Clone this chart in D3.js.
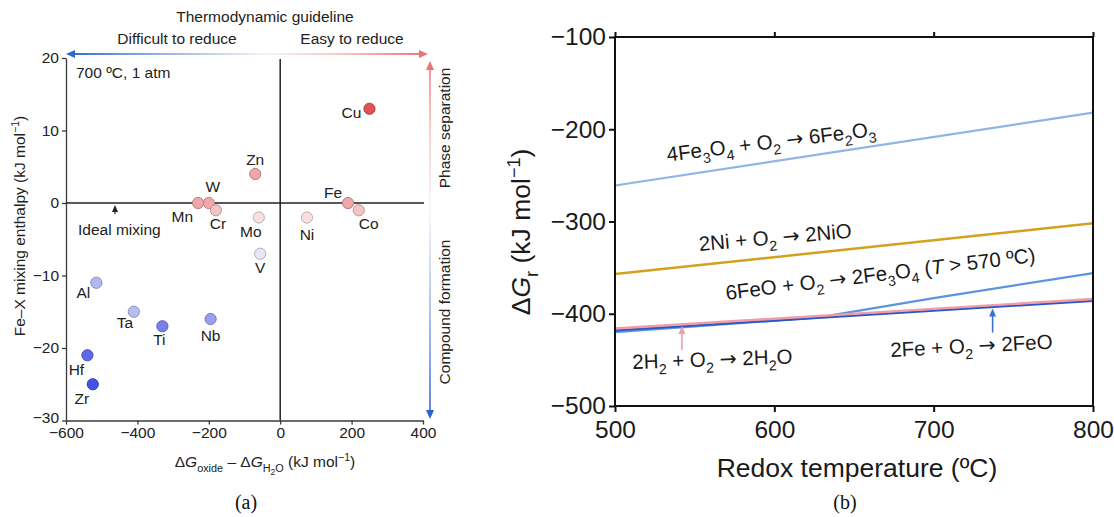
<!DOCTYPE html>
<html>
<head>
<meta charset="utf-8">
<script src="https://cdn.jsdelivr.net/npm/d3@7"></script>
<style>
  html, body { margin: 0; padding: 0; background: #fff; }
  svg { display: block; }
  text { white-space: pre; }
</style>
</head>
<body>
<svg id="fig" width="1114" height="517"></svg>
<script>
// ---------- Panel (a): Fe–X mixing enthalpy vs. oxide stability ----------
const elements = ["Cu", "Zn", "W", "Mn", "Cr", "Mo", "V", "Ni", "Fe", "Co", "Al", "Ta", "Ti", "Nb", "Hf", "Zr"];
const dGoxide  = [250, -70, -200, -230, -180, -60, -56, 75, 190, 220, -515, -410, -330, -195, -540, -525];
const mixingH  = [13, 4, 0, 0, -1, -2, -7, -2, 0, -1, -11, -15, -17, -16, -21, -25];
const xTicksA = [-600, -400, -200, 0, 200, 400];
const yTicksA = [-30, -20, -10, 0, 10, 20];

// ---------- Panel (b): Gibbs energy of redox reactions ----------
const xTicksB = [500, 600, 700, 800];
const yTicksB = [-500, -400, -300, -200, -100];
const tFe2O3 = [500, 800];            const gFe2O3 = [-261, -182];
const tNiO   = [500, 800];            const gNiO   = [-357, -302];
const tFe3O4 = [500, 628, 700, 800];  const gFe3O4 = [-420, -404, -383, -356];
const tH2O   = [500, 800];            const gH2O   = [-416, -384];
const tFeO   = [500, 800];            const gFeO   = [-418, -386];

const svg = d3.select("#fig");
const SANS = "'Liberation Sans', Arial, Helvetica, sans-serif";
const SERIF = "'Liberation Serif', 'Times New Roman', serif";

// Writes text made of normal / italic / subscript / superscript / arrow runs.
function rich(textSel, parts, size) {
  let shift = 0;
  parts.forEach(([s, kind]) => {
    const t = textSel.append("tspan").text(s);
    let target = 0;
    if (kind === "sub") { target = size * 0.3; t.attr("font-size", size * 0.7); }
    else if (kind === "sub2") { target = size * 0.5; t.attr("font-size", size * 0.55); }
    else if (kind === "sup") { target = -size * 0.38; t.attr("font-size", size * 0.68); }
    else if (kind === "i") { t.attr("font-style", "italic"); }
    else if (kind === "arrow") { t.attr("font-family", "'DejaVu Sans', sans-serif"); }
    t.attr("dy", target - shift);
    shift = target;
  });
  return textSel;
}

const defs = svg.append("defs");

// ===================== Panel (a) =====================
const FA = 15.5;
const gA = svg.append("g");
const xA = d3.scaleLinear().domain([-600, 400]).range([66, 423]);
const yA = d3.scaleLinear().domain([-30, 20]).range([420.5, 58]);

const axisColor = "#3a3a3a";
const axL = gA.append("g").attr("transform", `translate(${xA(-600)},0)`)
  .call(d3.axisLeft(yA).tickValues(yTicksA).tickSize(4).tickPadding(3).tickSizeOuter(0));
const axB = gA.append("g").attr("transform", `translate(0,${yA(-30)})`)
  .call(d3.axisBottom(xA).tickValues(xTicksA).tickSize(4).tickPadding(2).tickSizeOuter(0));
[axL, axB].forEach(ax => {
  ax.selectAll("path, line").attr("stroke", axisColor).attr("stroke-width", 1.3);
  ax.selectAll("text").attr("font-family", SANS).attr("font-size", FA).attr("fill", "#222");
});
// lift the lowest y label a little so it clears the first x label
axL.selectAll(".tick").filter(d => d === -30).select("text").attr("dy", "0.1em");

// zero reference lines
gA.append("line").attr("x1", xA(0)).attr("x2", xA(0)).attr("y1", yA(20) + 1).attr("y2", yA(-30))
  .attr("stroke", "#222").attr("stroke-width", 1.5);
gA.append("line").attr("x1", xA(-600)).attr("x2", xA(400) + 1).attr("y1", yA(0)).attr("y2", yA(0))
  .attr("stroke", "#222").attr("stroke-width", 1.5);

// colour by mixing enthalpy: blue (compound formation) to red (phase separation)
const colorA = d3.scaleLinear()
  .domain([-25, -17, -15, -11, -7, -2, 0, 4, 13])
  .range(["#4452e8", "#7880ea", "#b9bdf2", "#b2b8f2", "#e6e6f7", "#f8e0e0", "#f0a7aa", "#f0a5a8", "#e35252"])
  .interpolate(d3.interpolateRgb);

const pts = elements.map((el, i) => ({ el, x: dGoxide[i], y: mixingH[i] }));

// label placement around each marker: [dx, dy, anchor]
const labelPlace = {
  Cu: [-8, 9, "end"], Zn: [0, -9, "middle"], W: [4, -11, "middle"], Mn: [-5, 19, "end"],
  Cr: [2, 19, "middle"], Mo: [-8, 19, "middle"], V: [0, 19, "middle"], Ni: [0, 22, "middle"],
  Fe: [-15, -5, "middle"], Co: [10, 19, "middle"], Al: [-13, 15, "middle"], Ta: [-9, 16, "middle"],
  Ti: [-3, 18.5, "middle"], Nb: [0, 22, "middle"], Hf: [-11, 19.5, "middle"], Zr: [-11, 19.5, "middle"]
};

gA.append("g").selectAll("circle").data(pts).join("circle")
  .attr("cx", d => xA(d.x)).attr("cy", d => yA(d.y)).attr("r", 5.6)
  .attr("fill", d => colorA(d.y))
  .attr("stroke", d => d3.color(colorA(d.y)).darker(0.75))
  .attr("stroke-width", 1);

gA.append("g").selectAll("text").data(pts).join("text")
  .attr("x", d => xA(d.x) + labelPlace[d.el][0])
  .attr("y", d => yA(d.y) + labelPlace[d.el][1])
  .attr("text-anchor", d => labelPlace[d.el][2])
  .attr("font-family", SANS).attr("font-size", FA).attr("fill", "#222")
  .text(d => d.el);

// gradient arrows
const gradH = defs.append("linearGradient").attr("id", "gradH")
  .attr("gradientUnits", "userSpaceOnUse").attr("x1", 66).attr("x2", 428).attr("y1", 0).attr("y2", 0);
[[0, "#2c68cf"], [0.2, "#7fa3e2"], [0.55, "#f5f3f7"], [0.75, "#f7c9c9"], [1, "#ee7272"]]
  .forEach(([o, c]) => gradH.append("stop").attr("offset", o).attr("stop-color", c));
const gradV = defs.append("linearGradient").attr("id", "gradV")
  .attr("gradientUnits", "userSpaceOnUse").attr("x1", 0).attr("x2", 0).attr("y1", 60).attr("y2", 420);
[[0, "#ee7272"], [0.2, "#f7c6c6"], [0.42, "#f7f4f7"], [0.75, "#8aa8e4"], [1, "#2c5fcf"]]
  .forEach(([o, c]) => gradV.append("stop").attr("offset", o).attr("stop-color", c));

const arrowY = 54, arrowL = 66, arrowR = 428;
gA.append("line").attr("x1", arrowL + 6).attr("x2", arrowR - 6).attr("y1", arrowY).attr("y2", arrowY)
  .attr("stroke", "url(#gradH)").attr("stroke-width", 2);
gA.append("path").attr("d", `M${arrowL},${arrowY} l9,-4 l0,8 z`).attr("fill", "#2c68cf");
gA.append("path").attr("d", `M${arrowR},${arrowY} l-9,-4 l0,8 z`).attr("fill", "#ee7272");

const arrowX = 430, arrowT = 61, arrowBt = 419;
gA.append("line").attr("x1", arrowX).attr("x2", arrowX).attr("y1", arrowT + 6).attr("y2", arrowBt - 6)
  .attr("stroke", "url(#gradV)").attr("stroke-width", 1.6);
gA.append("path").attr("d", `M${arrowX},${arrowT} l-4,9 l8,0 z`).attr("fill", "#ee7272");
gA.append("path").attr("d", `M${arrowX},${arrowBt} l-4,-9 l8,0 z`).attr("fill", "#2c5fcf");

// headings and annotations
const txtA = (x, y, s, anchor = "middle") => gA.append("text")
  .attr("x", x).attr("y", y).attr("text-anchor", anchor)
  .attr("font-family", SANS).attr("font-size", FA).attr("fill", "#222").text(s);
txtA(265, 22, "Thermodynamic guideline");
txtA(177, 44, "Difficult to reduce");
txtA(352, 44, "Easy to reduce");
txtA(76, 78, "700 ºC, 1 atm", "start");
txtA(78, 235, "Ideal mixing", "start");
gA.append("line").attr("x1", 115).attr("x2", 115).attr("y1", 214).attr("y2", 209)
  .attr("stroke", "#222").attr("stroke-width", 1.2);
gA.append("path").attr("d", `M115,${yA(0) + 2} l-3,7 l6,0 z`).attr("fill", "#222");

gA.append("text").attr("transform", "translate(450,128) rotate(-90)")
  .attr("text-anchor", "middle").attr("font-family", SANS).attr("font-size", FA).attr("fill", "#222")
  .text("Phase separation");
gA.append("text").attr("transform", "translate(450,312) rotate(-90)")
  .attr("text-anchor", "middle").attr("font-family", SANS).attr("font-size", FA).attr("fill", "#222")
  .text("Compound formation");

rich(gA.append("text").attr("transform", "translate(25,226) rotate(-90)")
  .attr("text-anchor", "middle").attr("font-family", SANS).attr("font-size", FA).attr("fill", "#222"),
  [["Fe–X mixing enthalpy (kJ mol", "n"], ["−1", "sup"], [")", "n"]], FA);

rich(gA.append("text").attr("x", 265).attr("y", 467)
  .attr("text-anchor", "middle").attr("font-family", SANS).attr("font-size", FA).attr("fill", "#222"),
  [["Δ", "n"], ["G", "i"], ["oxide", "sub"], [" – Δ", "n"], ["G", "i"], ["H", "sub"], ["2", "sub2"], ["O", "sub"],
   [" (kJ mol", "n"], ["−1", "sup"], [")", "n"]], FA);

svg.append("text").attr("x", 246).attr("y", 509).attr("text-anchor", "middle")
  .attr("font-family", SERIF).attr("font-size", 20).attr("fill", "#111").text("(a)");

// ===================== Panel (b) =====================
const gB = svg.append("g");
const xB = d3.scaleLinear().domain([500, 800]).range([615, 1093]);
const yB = d3.scaleLinear().domain([-500, -100]).range([406, 37]);

const series = [
  { t: tFe3O4, g: gFe3O4, color: "#5b94df", w: 2.2 },
  { t: tFeO,   g: gFeO,   color: "#2b56c6", w: 2.2 },
  { t: tH2O,   g: gH2O,   color: "#f29ca8", w: 2.4 },
  { t: tFe2O3, g: gFe2O3, color: "#8fb5e6", w: 2.2 },
  { t: tNiO,   g: gNiO,   color: "#d3a11d", w: 2.5 }
];
const lineGen = d3.line().x(d => xB(d[0])).y(d => yB(d[1]));
gB.append("g").selectAll("path").data(series).join("path")
  .attr("d", s => lineGen(s.t.map((t, i) => [t, s.g[i]])))
  .attr("fill", "none").attr("stroke", s => s.color).attr("stroke-width", s => s.w);

// frame and axes
gB.append("rect").attr("x", xB(500)).attr("y", yB(-100))
  .attr("width", xB(800) - xB(500)).attr("height", yB(-500) - yB(-100))
  .attr("fill", "none").attr("stroke", "#111").attr("stroke-width", 2);
const bL = gB.append("g").attr("transform", `translate(${xB(500)},0)`)
  .call(d3.axisLeft(yB).tickValues(yTicksB).tickSize(6).tickPadding(3).tickSizeOuter(0));
const bB = gB.append("g").attr("transform", `translate(0,${yB(-500)})`)
  .call(d3.axisBottom(xB).tickValues(xTicksB).tickSize(6).tickPadding(9).tickSizeOuter(0));
const bT = gB.append("g").attr("transform", `translate(0,${yB(-100)})`)
  .call(d3.axisTop(xB).tickValues(xTicksB).tickSize(5).tickFormat("").tickSizeOuter(0));
[bL, bB, bT].forEach(ax => {
  ax.select(".domain").remove();
  ax.selectAll("line").attr("stroke", "#111").attr("stroke-width", 2);
  ax.selectAll("text").attr("font-family", SANS).attr("font-size", 24.5).attr("fill", "#1a1a1a");
});

// reaction labels, anchored in data coordinates
const RS = 20.5;
function reaction(t, g, angle, parts) {
  const el = gB.append("text")
    .attr("transform", `translate(${xB(t)},${yB(g)}) rotate(${angle})`)
    .attr("font-family", SANS).attr("font-size", RS).attr("fill", "#1a1a1a");
  rich(el, parts, RS);
}
reaction(533, -235, -7, [["4Fe", "n"], ["3", "sub"], ["O", "n"], ["4", "sub"], [" + O", "n"], ["2", "sub"],
  [" ", "n"], ["→", "arrow"], [" 6Fe", "n"], ["2", "sub"], ["O", "n"], ["3", "sub"]]);
reaction(553, -332, -5, [["2Ni + O", "n"], ["2", "sub"], [" ", "n"], ["→", "arrow"], [" 2NiO", "n"]]);
reaction(570, -385, -7, [["6FeO + O", "n"], ["2", "sub"], [" ", "n"], ["→", "arrow"], [" 2Fe", "n"], ["3", "sub"],
  ["O", "n"], ["4", "sub"], [" (", "n"], ["T", "i"], [" > 570 ºC)", "n"]]);
reaction(511, -460, -2, [["2H", "n"], ["2", "sub"], [" + O", "n"], ["2", "sub"], [" ", "n"], ["→", "arrow"],
  [" 2H", "n"], ["2", "sub"], ["O", "n"]]);
reaction(673, -447, -3, [["2Fe + O", "n"], ["2", "sub"], [" ", "n"], ["→", "arrow"], [" 2FeO", "n"]]);

// pointer arrows to the H2O and FeO lines
function pointer(t, tArr, gArr, color) {
  const g = d3.scaleLinear().domain(tArr).range(gArr)(t);
  const x = xB(t), yTip = yB(g) + 1.5;
  gB.append("line").attr("x1", x).attr("x2", x).attr("y1", yTip + 24).attr("y2", yTip + 6)
    .attr("stroke", color).attr("stroke-width", 1.6);
  gB.append("path").attr("d", `M${x},${yTip} l-3.5,8 l7,0 z`).attr("fill", color);
}
pointer(542, tH2O, gH2O, "#f29ca8");
pointer(737, tFeO, gFeO, "#3a72cf");

const FT = 26.5;
rich(gB.append("text").attr("transform", `translate(530,232) rotate(-90)`)
  .attr("text-anchor", "middle").attr("font-family", SANS).attr("font-size", FT).attr("fill", "#1a1a1a"),
  [["Δ", "n"], ["G", "i"], ["r", "sub"], [" (kJ mol", "n"], ["−1", "sup"], [")", "n"]], FT);

gB.append("text").attr("x", 857).attr("y", 477).attr("text-anchor", "middle")
  .attr("font-family", SANS).attr("font-size", FT).attr("fill", "#1a1a1a").text("Redox temperature (ºC)");

svg.append("text").attr("x", 845).attr("y", 509).attr("text-anchor", "middle")
  .attr("font-family", SERIF).attr("font-size", 20).attr("fill", "#111").text("(b)");
</script>
</body>
</html>
